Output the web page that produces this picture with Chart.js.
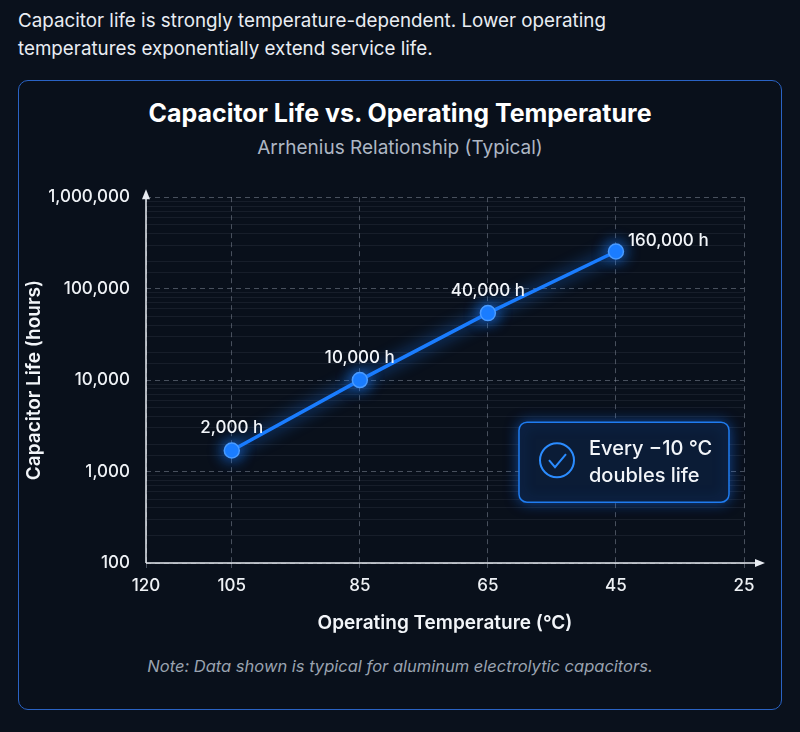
<!DOCTYPE html>
<html><head><meta charset="utf-8">
<script src="https://cdn.jsdelivr.net/npm/chart.js@4/dist/chart.umd.min.js"></script>
<style>
body{margin:0;width:800px;height:732px;background:#0a111c;font-family:Inter,"Noto Sans",sans-serif;color:#e6ebf2;position:relative;overflow:hidden}
#intro{position:absolute;left:18px;top:7px;font-size:18.8px;line-height:28px;color:#e9edf3}
#card{position:absolute;left:18px;top:80px;width:762px;height:628px;border:1.5px solid #2a63c4;border-radius:10px;background:#09101b}
#title{position:absolute;left:0;width:100%;top:17px;text-align:center;font-size:25px;font-weight:700;color:#fff}
#sub{position:absolute;left:0;width:100%;top:55px;text-align:center;font-size:19px;color:#aeb7c4}
#note{position:absolute;left:0;width:100%;top:575px;text-align:center;font-size:16.5px;font-style:italic;color:#9aa3b0}
#wrap{position:absolute;left:0;top:90px;width:764px;height:480px}
</style></head><body>
<div id="intro">Capacitor life is strongly temperature-dependent. Lower operating<br>temperatures exponentially extend service life.</div>
<div id="card">
<div id="title">Capacitor Life vs. Operating Temperature</div>
<div id="sub">Arrhenius Relationship (Typical)</div>
<div id="wrap"><canvas id="c" width="764" height="480"></canvas></div>
<div id="note">Note: Data shown is typical for aluminum electrolytic capacitors.</div>
</div>
<script>
const temps = [105, 85, 65, 45];
const lifeHours = [1700, 10000, 54000, 255000];
const pointLabels = ['2,000 h', '10,000 h', '40,000 h', '160,000 h'];
const xTicks = [118.4, 105, 85, 65, 45, 25];
const xTickLabels = ['120', '105', '85', '65', '45', '25'];
const yTicks = [100, 1000, 10000, 100000, 1000000];
const noteLines = ['Every \u221210 \u00b0C', 'doubles life'];

const isMajor = v => yTicks.includes(v);

const decor = {
  id: 'decor',
  beforeDatasetsDraw(chart) {
    const {ctx, chartArea: a} = chart;
    ctx.save();
    ctx.strokeStyle = '#e8ecf2'; ctx.fillStyle = '#e8ecf2'; ctx.lineWidth = 1.5;
    ctx.beginPath(); ctx.moveTo(a.left, a.bottom); ctx.lineTo(a.left, a.top - 5);
    ctx.moveTo(a.left, a.bottom); ctx.lineTo(a.right + 18, a.bottom); ctx.stroke();
    ctx.beginPath(); ctx.moveTo(a.left, a.top - 8); ctx.lineTo(a.left - 4, a.top + 2); ctx.lineTo(a.left + 4, a.top + 2); ctx.fill();
    ctx.beginPath(); ctx.moveTo(a.right + 21, a.bottom); ctx.lineTo(a.right + 11, a.bottom - 4); ctx.lineTo(a.right + 11, a.bottom + 4); ctx.fill();
    ctx.restore();
  },
  beforeDatasetDraw(chart) {
    chart.ctx.save();
    chart.ctx.shadowColor = 'rgba(30,125,255,1)';
    chart.ctx.shadowBlur = 16;
  },
  afterDatasetDraw(chart) { chart.ctx.restore(); },
  afterDatasetsDraw(chart) {
    const {ctx, chartArea: a} = chart;
    const meta = chart.getDatasetMeta(0);
    ctx.save();
    ctx.fillStyle = '#f2f5f9'; ctx.font = '500 17px Inter'; ctx.textBaseline = 'bottom';
    meta.data.forEach((p, i) => {
      if (i === 3) { ctx.textAlign = 'left'; ctx.fillText(pointLabels[i], p.x + 12, p.y - 2); }
      else { ctx.textAlign = 'center'; ctx.fillText(pointLabels[i], p.x, p.y - 14); }
    });
    const bx = a.left + 373, by = a.top + 225, bw = 210, bh = 80;
    ctx.shadowColor = 'rgba(30,120,255,0.5)'; ctx.shadowBlur = 14;
    ctx.fillStyle = '#0b1c36'; ctx.strokeStyle = '#1f7cf0'; ctx.lineWidth = 1.5;
    ctx.beginPath(); ctx.roundRect(bx, by, bw, bh, 8); ctx.fill(); ctx.stroke();
    ctx.shadowBlur = 0;
    ctx.strokeStyle = '#2b8cff'; ctx.lineWidth = 2;
    ctx.beginPath(); ctx.arc(bx + 38, by + 38, 17, 0, Math.PI * 2); ctx.stroke();
    ctx.beginPath(); ctx.moveTo(bx + 30, by + 38); ctx.lineTo(bx + 36, by + 45); ctx.lineTo(bx + 47, by + 32); ctx.stroke();
    ctx.fillStyle = '#f2f5f9'; ctx.font = '500 20px Inter'; ctx.textAlign = 'left'; ctx.textBaseline = 'middle';
    ctx.fillText(noteLines[0], bx + 70, by + 27);
    ctx.fillText(noteLines[1], bx + 70, by + 54);
    ctx.restore();
  }
};

new Chart(document.getElementById('c'), {
  type: 'line',
  data: { datasets: [{
    data: temps.map((t, i) => ({x: t, y: lifeHours[i]})),
    borderColor: '#1a7dff', borderWidth: 3.5,
    pointBackgroundColor: '#1a7dff', pointBorderColor: '#4a9bff', pointRadius: 7.5, pointBorderWidth: 1.5
  }]},
  options: {
    responsive: false, animation: false,
    layout: { padding: {left: 0, top: 18, right: 39, bottom: 0} },
    plugins: { legend: {display: false}, tooltip: {enabled: false} },
    scales: {
      x: {
        type: 'linear', reverse: true, min: 25, max: 118.4,
        afterBuildTicks: s => { s.ticks = xTicks.map(v => ({value: v})); },
        afterFit: s => { s.height = 88; },
        ticks: { color: '#eef1f5', font: {size: 17, family: 'Inter', weight: '500'}, padding: 8,
          callback: v => xTickLabels[xTicks.indexOf(v)] },
        grid: { color: 'rgba(150,160,175,0.45)', drawTicks: true, tickLength: 5 },
        border: { display: false, dash: [5, 4] },
        title: { display: true, text: 'Operating Temperature (\u00b0C)', color: '#f2f5f9', font: {size: 19, family: 'Inter', weight: '600'}, padding: {top: 8, bottom: 16} }
      },
      y: {
        type: 'logarithmic', min: 100, max: 1000000,
        afterFit: s => { s.width = 127; },
        ticks: { color: '#eef1f5', font: {size: 17, family: 'Inter', weight: '500'}, autoSkip: false, padding: 16,
          callback: v => isMajor(v) ? v.toLocaleString('en-US') : '' },
        grid: { color: c => isMajor(c.tick.value) ? 'rgba(150,160,175,0.45)' : 'rgba(120,130,150,0.13)', drawTicks: false },
        border: { display: false, dash: c => isMajor(c.tick.value) ? [5, 4] : [] },
        title: { display: true, text: 'Capacitor Life (hours)', color: '#f2f5f9', font: {size: 19, family: 'Inter', weight: '600'}, padding: {bottom: 2} }
      }
    }
  },
  plugins: [decor]
});
</script>
</body></html>
